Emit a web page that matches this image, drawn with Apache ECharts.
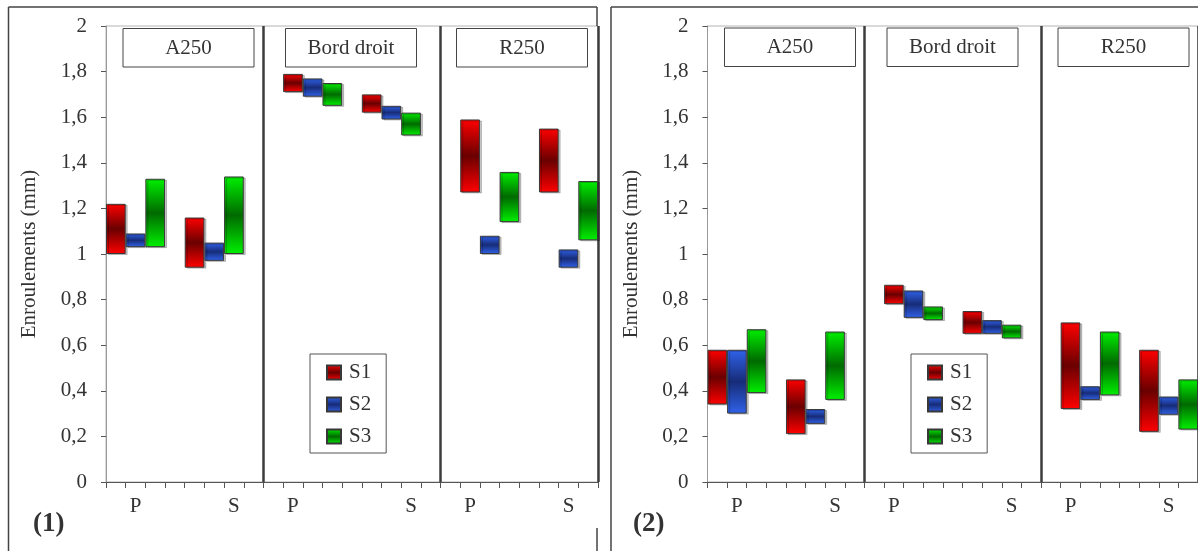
<!DOCTYPE html>
<html>
<head>
<meta charset="utf-8">
<script src="https://cdn.jsdelivr.net/npm/echarts@6/dist/echarts.min.js"></script>
<style>
html,body{margin:0;padding:0;background:#fff;}
#chart{width:1198px;height:551px;}
</style>
</head>
<body>
<div id="chart"></div>
<script>
// ---------- DATA ----------
const sections = ['A250', 'Bord droit', 'R250'];
const seriesNames = ['S1', 'S2', 'S3'];
// 25 category slots along the x axis; labels shown at a few slots only
const xTickLabels = ['', 'P', '', '', '', '', 'S', '', '',
                     'P', '', '', '', '', '', 'S', '', '',
                     'P', '', '', '', '', 'S', ''];
// groups: A250-P, A250-S, Bord droit-P, Bord droit-S, R250-P, R250-S
const groupSlot = [0, 4, 9, 13, 18, 22];   // slot of S1 in each group (S2 = +1, S3 = +2)
const sectionBreaks = [8, 17];             // slot boundaries between sections
const yTicks = [0, 0.2, 0.4, 0.6, 0.8, 1, 1.2, 1.4, 1.6, 1.8, 2];

// Panel (1)
const p1S1Low  = [1.00, 0.94, 1.71, 1.62, 1.27, 1.27];
const p1S1High = [1.22, 1.16, 1.79, 1.70, 1.59, 1.55];
const p1S2Low  = [1.03, 0.97, 1.69, 1.59, 1.00, 0.94];
const p1S2High = [1.09, 1.05, 1.77, 1.65, 1.08, 1.02];
const p1S3Low  = [1.03, 1.00, 1.65, 1.52, 1.14, 1.06];
const p1S3High = [1.33, 1.34, 1.75, 1.62, 1.36, 1.32];

// Panel (2)
const p2S1Low  = [0.34, 0.21, 0.78, 0.65, 0.32, 0.22];
const p2S1High = [0.58, 0.45, 0.865, 0.75, 0.70, 0.58];
const p2S2Low  = [0.30, 0.255, 0.72, 0.65, 0.36, 0.295];
const p2S2High = [0.58, 0.32, 0.84, 0.71, 0.42, 0.375];
const p2S3Low  = [0.39, 0.36, 0.71, 0.63, 0.38, 0.23];
const p2S3High = [0.67, 0.66, 0.77, 0.69, 0.66, 0.45];

// ---------- STYLE ----------
const FONT = "'Liberation Serif', 'Times New Roman', serif";
const TXT = '#333';
function grad(edge, mid) {
  return {type: 'linear', x: 0, y: 0, x2: 0, y2: 1,
    colorStops: [{offset: 0, color: edge}, {offset: 0.5, color: mid}, {offset: 1, color: edge}]};
}
const fills = [grad('#ff0000', '#6a0000'), grad('#3062ea', '#172c78'), grad('#00f000', '#006a00')];

const nSlots = xTickLabels.length;
const slotKeys = xTickLabels.map((_, i) => 'c' + i);

function buildPanel(idx, lows, highs) {
  const base = new Array(nSlots).fill('-');
  const series = [];
  lows.forEach((low, s) => {
    low.forEach((v, g) => { base[groupSlot[g] + s] = v; });
  });
  series.push({
    type: 'bar', name: 'base' + idx, stack: 'p' + idx, xAxisIndex: idx, yAxisIndex: idx,
    data: base, barWidth: '100%', silent: true,
    itemStyle: {color: 'rgba(0,0,0,0)'}, emphasis: {disabled: true}
  });
  lows.forEach((low, s) => {
    const d = new Array(nSlots).fill('-');
    low.forEach((v, g) => { d[groupSlot[g] + s] = +(highs[s][g] - v).toFixed(4); });
    series.push({
      type: 'bar', name: seriesNames[s], stack: 'p' + idx, xAxisIndex: idx, yAxisIndex: idx,
      data: d, barWidth: '100%',
      itemStyle: {color: fills[s], borderColor: '#383838', borderWidth: 1,
        shadowColor: 'rgba(0,0,0,0.22)', shadowOffsetX: 2, shadowOffsetY: 1, shadowBlur: 0}
    });
  });
  return series;
}

const GRID_TOP = 26, GRID_H = 456;
const grids = [{left: 106, top: GRID_TOP, width: 492, height: GRID_H},
               {left: 707.5, top: GRID_TOP, width: 493, height: GRID_H}];

function xAxisFor(i) {
  return {
    type: 'category', gridIndex: i, data: slotKeys, boundaryGap: true,
    axisLine: {lineStyle: {color: '#555', width: 1}},
    axisTick: {show: true, interval: 0, length: 6, lineStyle: {color: '#555'}},
    axisLabel: {interval: 0, margin: 14, fontSize: 21, fontFamily: FONT, color: TXT,
      formatter: (v, k) => xTickLabels[k]},
    splitLine: {show: true, interval: (k) => sectionBreaks.indexOf(k) >= 0,
      lineStyle: {color: '#3c3c3c', width: 2.5}}
  };
}
function yAxisFor(i) {
  return {
    type: 'value', gridIndex: i, min: yTicks[0], max: yTicks[yTicks.length - 1], interval: 0.2,
    name: 'Enroulements (mm)', nameLocation: 'middle', nameGap: 66,
    nameTextStyle: {fontSize: 21, fontFamily: FONT, color: TXT},
    axisLine: {show: true, lineStyle: {color: '#999'}},
    axisTick: {show: true, length: 5, lineStyle: {color: '#555'}},
    axisLabel: {fontSize: 21, fontFamily: FONT, color: TXT, margin: 19,
      formatter: v => String(+v.toFixed(1)).replace('.', ',')},
    splitLine: {show: false}
  };
}

// section label boxes (offsets relative to each grid's left edge)
const boxOffsets = [16.5, 179, 350];
const graphics = [];
grids.forEach((g, gi) => {
  sections.forEach((name, si) => {
    graphics.push({
      type: 'group', left: g.left + boxOffsets[si], top: 28 - (gi ? 0.5 : 0),
      children: [
        {type: 'rect', shape: {x: 0, y: 0, width: 131, height: 38.5},
          style: {fill: '#fff', stroke: '#444', lineWidth: 1}},
        {type: 'text', x: 65.5, y: 19.5, style: {text: name, font: '21px ' + FONT, fill: TXT,
          textAlign: 'center', textVerticalAlign: 'middle'}}
      ]
    });
  });
});
// panel labels
graphics.push({type: 'text', left: 33, top: 511, style: {text: '(1)', font: 'bold 27px ' + FONT, fill: TXT}});
graphics.push({type: 'text', left: 633, top: 511, style: {text: '(2)', font: 'bold 27px ' + FONT, fill: TXT}});
// panel frames
const frameStyle = {stroke: '#444', lineWidth: 1.5};
[
  [8.5, 7, 597, 7], [8.5, 7, 8.5, 551], [597, 7, 597, 26], [597, 528, 597, 551],
  [611, 7, 1198, 7], [611, 7, 611, 551]
].forEach(l => graphics.push({type: 'line', silent: true,
  shape: {x1: l[0], y1: l[1], x2: l[2], y2: l[3]}, style: frameStyle}));

const legendCommon = {
  orient: 'vertical', data: seriesNames, icon: 'rect',
  itemWidth: 14, itemHeight: 14, itemGap: 11, itemStyle: {shadowBlur: 0, shadowOffsetX: 0, shadowOffsetY: 0},
  padding: [8, 15, 6, 16], borderColor: '#555', borderWidth: 1, backgroundColor: '#fff',
  textStyle: {fontSize: 21, fontFamily: FONT, color: TXT, padding: [0, 0, 0, 3]},
  selectedMode: false
};

const option = {
  backgroundColor: '#fff',
  animation: false,
  grid: grids.map(g => Object.assign({show: true, borderColor: '#b4b4b4', borderWidth: 1,
    backgroundColor: 'rgba(0,0,0,0)'}, g)),
  xAxis: [xAxisFor(0), xAxisFor(1)],
  yAxis: [yAxisFor(0), yAxisFor(1)],
  legend: [
    Object.assign({left: 310, top: 354}, legendCommon),
    Object.assign({left: 911, top: 354}, legendCommon)
  ],
  graphic: graphics,
  series: [
    ...buildPanel(0, [p1S1Low, p1S2Low, p1S3Low], [p1S1High, p1S2High, p1S3High]),
    ...buildPanel(1, [p2S1Low, p2S2Low, p2S3Low], [p2S1High, p2S2High, p2S3High])
  ]
};

const chart = echarts.init(document.getElementById('chart'), null, {renderer: 'canvas'});
chart.setOption(option);
</script>
</body>
</html>
